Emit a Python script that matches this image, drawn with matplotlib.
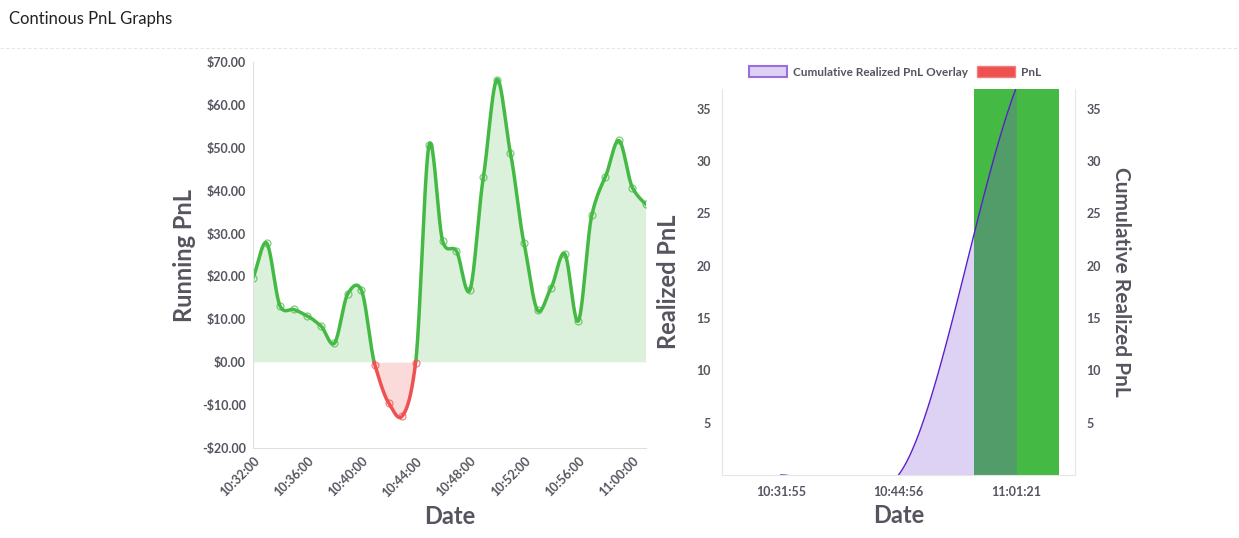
import numpy as np
import matplotlib
matplotlib.use("Agg")
import matplotlib.pyplot as plt
from matplotlib.patches import Patch

plt.rcParams["font.family"] = "Lato"

# ---- data ----
minutes = ["10:%02d:00" % m for m in range(32, 60)] + ["11:00:00", "11:01:00"]
running_pnl = [19.7, 27.8, 13.1, 12.3, 10.8, 8.5, 4.4, 16.0, 16.8, -0.7,
               -9.4, -12.6, -0.1, 50.7, 28.2, 26.0, 16.8, 43.2, 65.9, 48.7,
               27.7, 12.1, 17.4, 25.3, 9.6, 34.3, 43.2, 51.7, 40.7, 36.8]
tick_every = 4

trade_times = ["10:31:55", "10:44:56", "11:01:21"]
trade_pnl = [0, 0, 60.0]
cum_pnl = [0, 0, 37.0]

GREEN = "#44b944"
RED = "#ef5050"
TXT = "#555560"


def smooth(xs, ys, n=20):
    # cardinal spline for drawing only
    xs = np.asarray(xs, float); ys = np.asarray(ys, float)
    m = np.gradient(ys, xs) * 0.8
    ox, oy = [], []
    for i in range(len(xs) - 1):
        t = np.linspace(0, 1, n, endpoint=False)
        h = xs[i + 1] - xs[i]
        h00 = 2*t**3 - 3*t**2 + 1; h10 = t**3 - 2*t**2 + t
        h01 = -2*t**3 + 3*t**2; h11 = t**3 - t**2
        ox.append(xs[i] + t*h)
        oy.append(h00*ys[i] + h10*h*m[i] + h01*ys[i+1] + h11*h*m[i+1])
    ox.append([xs[-1]]); oy.append([ys[-1]])
    return np.concatenate(ox), np.concatenate(oy)


fig = plt.figure(figsize=(12.39, 5.38), dpi=100)
fig.text(0.007, 0.965, "Continous PnL Graphs", fontsize=12, color="#222", va="center")
fig.add_artist(plt.Line2D([0, 1], [0.91, 0.91], color="#e6e6e6", lw=0.8, ls=(0, (3, 2))))

# ---- left chart ----
ax = fig.add_axes([253/1239, 1-448/538, 393/1239, 386/538])
x = np.arange(len(running_pnl))
sx, sy = smooth(x, running_pnl, 40)
pos = np.where(sy >= 0, sy, np.nan)
neg = np.where(sy <= 0, sy, np.nan)
ax.fill_between(sx, 0, sy, where=sy >= 0, color="#dbf1db", lw=0, interpolate=True)
ax.fill_between(sx, 0, sy, where=sy <= 0, color="#fbdada", lw=0, interpolate=True)
ax.plot(sx, pos, color=GREEN, lw=2.5)
ax.plot(sx, neg, color=RED, lw=2.5)
for xi, yi in zip(x, running_pnl):
    ax.plot(xi, yi, "o", ms=5, mfc="none", mec=GREEN if yi >= 0 else RED, mew=0.9, alpha=0.7)
ax.set_xlim(0, len(running_pnl) - 1)
ax.set_ylim(-20, 70)
ax.set_yticks(range(-20, 71, 10))
ax.set_yticklabels([("-$%.2f" % -v) if v < 0 else ("$%.2f" % v) for v in range(-20, 71, 10)])
ax.set_xticks(x[::tick_every])
ax.set_xticklabels(minutes[::tick_every], rotation=45, ha="right", rotation_mode="anchor")
ax.set_xlabel("Date", fontsize=17, fontweight="bold", color=TXT)
ax.set_ylabel("Running PnL", fontsize=17, fontweight="bold", color=TXT)
for s in ["top", "right"]:
    ax.spines[s].set_visible(False)
for s in ["left", "bottom"]:
    ax.spines[s].set_color("#e0e0e0")
ax.tick_params(length=0, labelsize=9, labelcolor=TXT, pad=5)
for t in ax.get_xticklabels() + ax.get_yticklabels():
    t.set_fontweight("bold")

# ---- right chart ----
ax2 = fig.add_axes([722/1239, 1-475/538, 353/1239, 386/538])
xc = np.arange(len(trade_times))
ax2.bar(xc, trade_pnl, width=0.72, color=GREEN, zorder=1)
cx, cy = smooth(xc, cum_pnl, 60)
ax2.fill_between(cx, 0, cy, color="#7b48d6", alpha=0.25, lw=0, zorder=2)
ax2.plot(cx, cy, color="#5a1fc8", lw=1, zorder=3)
ax2.set_xlim(-0.5, 2.5)
ax2.set_ylim(0, 36.9)
ax2.set_yticks(range(5, 36, 5))
ax2.set_xticks(xc)
ax2.set_xticklabels(trade_times)
ax2.set_xlabel("Date", fontsize=17, fontweight="bold", color=TXT)
ax2.set_ylabel("Realized PnL", fontsize=17, fontweight="bold", color=TXT, labelpad=12)
for s in ax2.spines.values():
    s.set_color("#e6e6e6")
ax2.spines["top"].set_visible(False)
ax2.tick_params(length=0, labelsize=9, labelcolor=TXT, pad=8)
axr = ax2.twinx()
axr.set_ylim(ax2.get_ylim())
axr.set_yticks(range(5, 36, 5))
axr.tick_params(length=0, labelsize=9, labelcolor=TXT, pad=8)
axr.set_ylabel("Cumulative Realized PnL", fontsize=15, fontweight="bold", color=TXT,
               rotation=270, labelpad=22)
for s in axr.spines.values():
    s.set_visible(False)
for t in ax2.get_xticklabels() + ax2.get_yticklabels() + axr.get_yticklabels():
    t.set_fontweight("bold")

handles = [Patch(facecolor="#ddd0f3", edgecolor="#9b6ee0", lw=1.5, label="Cumulative Realized PnL Overlay"),
           Patch(facecolor=RED, edgecolor="#f08080", label="PnL")]
leg = fig.legend(handles=handles, loc="center", bbox_to_anchor=(895/1239, 1-72/538), ncol=2,
                 frameon=False, fontsize=8.5, handlelength=3.2, handleheight=1.1,
                 columnspacing=0.8, handletextpad=0.5)
for t in leg.get_texts():
    t.set_color(TXT); t.set_fontweight("bold")

fig.savefig("out.png", dpi=100)
